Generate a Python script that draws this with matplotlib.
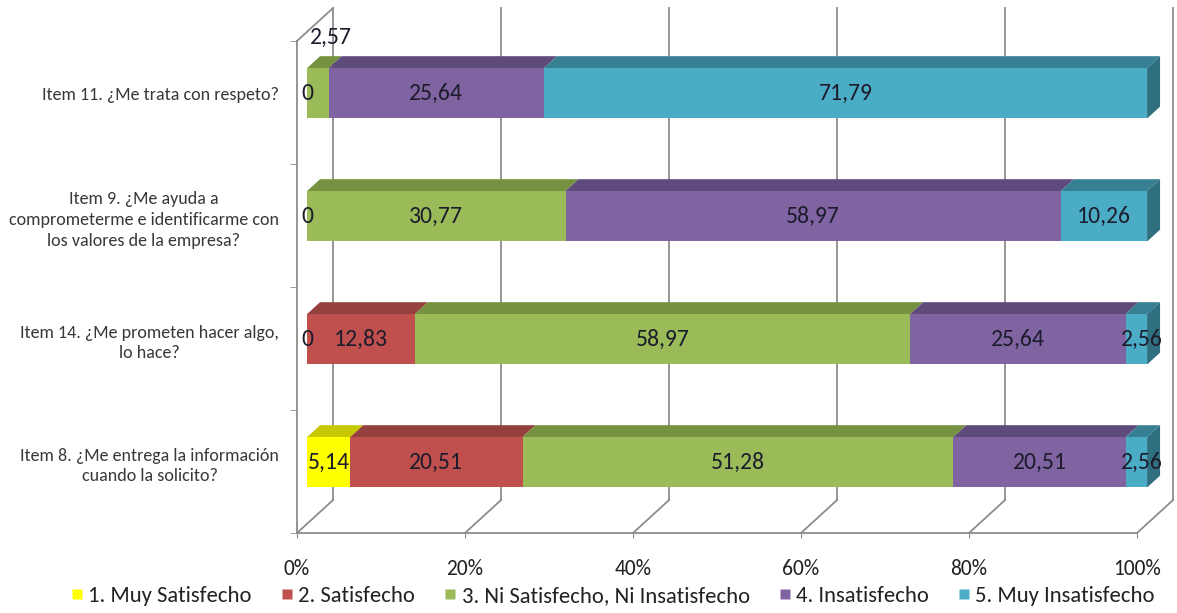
import numpy as np
import matplotlib
matplotlib.use("Agg")
import matplotlib.pyplot as plt
from matplotlib.patches import Polygon
from matplotlib.lines import Line2D
from matplotlib import font_manager as fm

_avail = {f.name for f in fm.fontManager.ttflist}
_main = next((c for c in ['Carlito', 'Open Sans Condensed', 'Liberation Sans Narrow', 'Roboto Condensed',
                          'DejaVu Sans'] if c in _avail), 'DejaVu Sans')
plt.rcParams['font.family'] = [_main, 'DejaVu Sans']

# ---------------- data ----------------
categories = [
    "Item 8. ¿Me entrega la información\ncuando la solicito?",
    "Item 14. ¿Me prometen hacer algo,\nlo hace?",
    "Item 9. ¿Me ayuda a\ncomprometerme e identificarme con\nlos valores de la empresa?",
    "Item 11. ¿Me trata con respeto?",
]
series_names = ["1. Muy Satisfecho", "2. Satisfecho", "3. Ni Satisfecho, Ni Insatisfecho",
                "4. Insatisfecho", "5. Muy Insatisfecho"]
muy_satisfecho = [5.14, 0, 0, 0]
satisfecho = [20.51, 12.83, np.nan, np.nan]
neutral = [51.28, 58.97, 30.77, 2.57]
insatisfecho = [20.51, 25.64, 58.97, 25.64]
muy_insatisfecho = [2.56, 2.56, 10.26, 71.79]
xticks = [0, 20, 40, 60, 80, 100]
xtick_labels = ["0%", "20%", "40%", "60%", "80%", "100%"]

series = [muy_satisfecho, satisfecho, neutral, insatisfecho, muy_insatisfecho]
front_colors = ["#FFFF00", "#C0504D", "#9BBB59", "#8064A2", "#4BACC6"]
top_colors = ["#C8C800", "#96403D", "#76913F", "#5F4A7C", "#377F93"]
side_colors = ["#B0B000", "#8A3936", "#6A8436", "#55426E", "#2F6F80"]

# ---------------- figure ----------------
W, H = 1177, 613
fig = plt.figure(figsize=(W / 100, H / 100), dpi=100)
ax = fig.add_axes([297 / W, 80 / H, 840 / W, 492 / H])
ax.set_xlim(0, 100)
ax.set_ylim(0, 4)

grid_c = "#8C8C8C"
dx, dy = 4.29, 0.268      # depth offset (data units)
f1, f2 = 0.28, 0.64       # bar front/back depth fractions
h = 0.41                  # bar thickness

# walls / gridlines
for xv in xticks:
    ax.plot([xv + dx, xv + dx], [dy, 4 + dy], color=grid_c, lw=1.3, zorder=0, clip_on=False)
    ax.plot([xv, xv + dx], [0, dy], color=grid_c, lw=1.3, zorder=0, clip_on=False)
ax.plot([0, dx], [4, 4 + dy], color=grid_c, lw=1.3, zorder=0, clip_on=False)

# bars
n = len(categories)
ycent = np.arange(n) + 0.5
lefts = np.zeros(n)
for si, vals in enumerate(series):
    v = np.nan_to_num(np.array(vals, dtype=float))
    ax.barh(ycent + f1 * dy, v, left=lefts + f1 * dx, height=h,
            color=front_colors[si], edgecolor='none', zorder=3, clip_on=False)
    for i in range(n):
        l, w = lefts[i], v[i]
        if w <= 0:
            continue
        yt = ycent[i] + f1 * dy + h / 2
        top = Polygon([(l + f1 * dx, yt), (l + w + f1 * dx, yt),
                       (l + w + f2 * dx, yt + (f2 - f1) * dy), (l + f2 * dx, yt + (f2 - f1) * dy)],
                      closed=True, facecolor=top_colors[si], edgecolor='none', zorder=2, clip_on=False)
        ax.add_patch(top)
    lefts = lefts + v

# right side faces of the last segments
for i in range(n):
    r = lefts[i]
    yb = ycent[i] + f1 * dy - h / 2
    side = Polygon([(r + f1 * dx, yb), (r + f1 * dx, yb + h),
                    (r + f2 * dx, yb + h + (f2 - f1) * dy), (r + f2 * dx, yb + (f2 - f1) * dy)],
                   closed=True, facecolor=side_colors[-1], edgecolor='none', zorder=2, clip_on=False)
    ax.add_patch(side)

# value labels
lab_c = "#1C1C2C"
lefts = np.zeros(n)
for si, vals in enumerate(series):
    for i in range(n):
        val = vals[i]
        if np.isnan(val):
            continue
        txt = "0" if val == 0 else f"{val:.2f}".replace('.', ',')
        xc = lefts[i] + val / 2 + f1 * dx
        yc = ycent[i] + f1 * dy
        if 0 < val < 4 and i == n - 1:
            # small slice: label drawn above the bar
            xc = lefts[i] + val / 2 + f2 * dx
            yc = ycent[i] + f2 * dy + h / 2 + 0.15
        elif 0 < val < 4:
            xc += 0.6
        ax.text(xc, yc, txt, ha='center', va='center', fontsize=17, color=lab_c,
                zorder=5, clip_on=False)
    lefts = lefts + np.nan_to_num(np.array(vals, dtype=float))

# axes styling
for s in ['top', 'right']:
    ax.spines[s].set_visible(False)
for s in ['left', 'bottom']:
    ax.spines[s].set_color(grid_c)
    ax.spines[s].set_linewidth(1.3)
ax.set_xticks(xticks)
ax.set_xticklabels(xtick_labels, fontsize=15.5, color="#222222")
ax.tick_params(axis='x', length=3.5, color=grid_c, pad=15)
ax.set_yticks(ycent + f1 * dy)
ax.set_yticklabels(categories, fontsize=13, color="#383838", multialignment='center',
                   linespacing=1.35)
ax.tick_params(axis='y', which='major', length=0, pad=13)
ax.set_yticks([0, 1, 2, 3, 4], minor=True)
ax.tick_params(axis='y', which='minor', length=5, color=grid_c)
ax.set_facecolor('none')

# legend
handles = [Line2D([0], [0], marker='s', linestyle='none', markersize=7.5,
                  markerfacecolor=c, markeredgecolor='none') for c in front_colors]
fig.legend(handles, series_names, loc='center', bbox_to_anchor=(612 / W, 1 - 596 / H),
           ncol=5, frameon=False, fontsize=16.3, handletextpad=0.15, columnspacing=1.2,
           handlelength=0.7, labelcolor="#222222")

fig.savefig("out.png", dpi=100)
